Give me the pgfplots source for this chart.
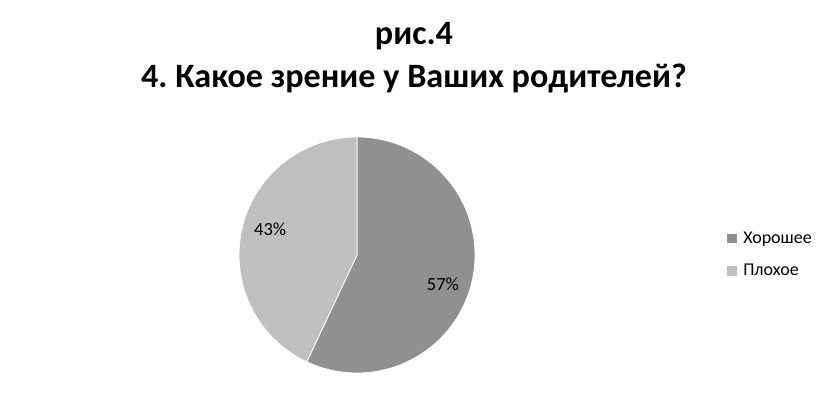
\documentclass[border=0pt]{standalone}
\usepackage{pgfplots}
\pgfplotsset{compat=1.18}
\usepackage{pgfplotstable}
\usetikzlibrary{calc}
\usepackage{fontspec}
\setmainfont{Carlito}
\definecolor{cGood}{HTML}{909090}
\definecolor{cBad}{HTML}{BFBFBF}
\pgfplotstableread[col sep=comma]{
label,value
Хорошее,57
Плохое,43
}\piedata
\pgfplotstablegetelem{0}{value}\of\piedata \let\vA\pgfplotsretval
\pgfplotstablegetelem{1}{value}\of\piedata \let\vB\pgfplotsretval
\pgfmathsetmacro{\angA}{90-3.6*\vA}
\pgfmathsetmacro{\angB}{\angA-3.6*\vB}
\pgfmathsetmacro{\midA}{(90+\angA)/2-6}
\pgfmathsetmacro{\midB}{(\angA+\angB)/2-4}
\begin{document}
\frenchspacing
\begin{tikzpicture}
\useasboundingbox (0,0) rectangle (621pt,303.75pt);
\begin{axis}[
  scale only axis, width=621pt, height=303.75pt,
  xmin=0, xmax=828, ymin=0, ymax=405,
  hide axis, clip=false,
  legend style={at={(axis cs:727,176)}, anchor=north west, draw=none, fill=none,
    font=\fontsize{13.5}{16}\selectfont, row sep=10pt, inner sep=0pt,
    /tikz/every odd column/.append style={column sep=3pt}},
  legend cell align=left,
  legend image code/.code={\fill[#1] (0pt,-3.5pt) rectangle (7pt,3.5pt);},
]
% pie wedges (centre at pixel 357,255; radius 118 px = 88.5pt)
\fill[cGood, draw=white, line width=0.6pt] (axis cs:357,150) -- ++(90:88.5pt) arc[start angle=90, end angle=\angA, radius=88.5pt] -- cycle;
\fill[cBad, draw=white, line width=0.6pt] (axis cs:357,150) -- ++(\angA:88.5pt) arc[start angle=\angA, end angle=\angB, radius=88.5pt] -- cycle;
\node[font=\fontsize{13.9}{16}\selectfont] at ($(axis cs:357,150)+(\midA:68pt)$) {\vA\%};
\node[font=\fontsize{13.9}{16}\selectfont] at ($(axis cs:357,150)+(\midB:68pt)$) {\vB\%};
\addlegendimage{fill=cGood, draw=none}
\addlegendentry{Хорошее}
\addlegendimage{fill=cBad, draw=none}
\addlegendentry{Плохое}
% title
\node[font=\fontsize{25.6}{30}\selectfont\bfseries, anchor=base] at (axis cs:414,361) {рис.4};
\node[font=\fontsize{25.6}{30}\selectfont\bfseries, anchor=base] at (axis cs:414,318) {4. Какое зрение у Ваших родителей?};
\end{axis}
\end{tikzpicture}
\end{document}
